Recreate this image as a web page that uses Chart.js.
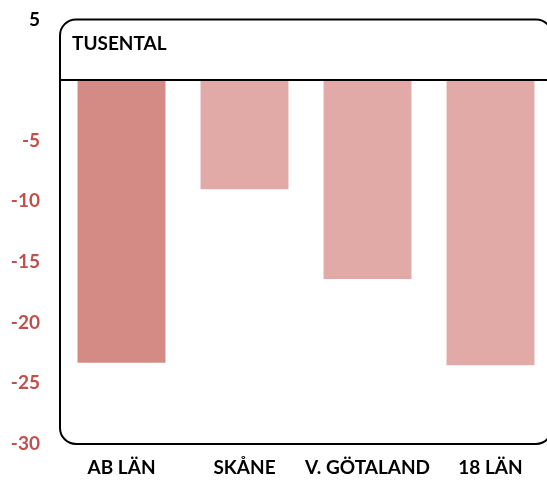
<!DOCTYPE html>
<html>
<head>
<meta charset="utf-8">
<script src="https://cdn.jsdelivr.net/npm/chart.js@4"></script>
<style>
  body { margin: 0; background: #fff; overflow: hidden; }
  #wrap { width: 547px; height: 480px; overflow: hidden; }
  #wrap div { width: 560px; height: 484px; margin-top: -4px; }
</style>
</head>
<body>
<div id="wrap"><div><canvas id="chart"></canvas></div></div>
<script>
// dane
const categories = ["AB LÄN", "SKÅNE", "V. GÖTALAND", "18 LÄN"];
const values = [-23.3, -9.0, -16.4, -23.5];
const barColors = ["#D48B85", "#E1AAA7", "#E1AAA7", "#E1AAA7"];
const unitLabel = "TUSENTAL";

// ramka z zaokraglonymi rogami + linia zero
const framePlugin = {
    id: "frame",
    afterDatasetsDraw(chart) {
        const ctx = chart.ctx;
        const a = chart.chartArea;
        const r = 16;
        ctx.save();
        ctx.strokeStyle = "#000";
        ctx.lineWidth = 2;
        ctx.beginPath();
        ctx.roundRect(a.left, a.top, a.right - a.left, a.bottom - a.top, r);
        ctx.stroke();
        const y0 = chart.scales.y.getPixelForValue(0);
        ctx.beginPath();
        ctx.moveTo(a.left, y0);
        ctx.lineTo(a.right, y0);
        ctx.stroke();
        ctx.fillStyle = "#000";
        ctx.font = "bold 19px Lato";
        ctx.textBaseline = "middle";
        ctx.fillText(unitLabel, a.left + 12, a.top + 24);
        ctx.restore();
    }
};

const ctx = document.getElementById("chart").getContext("2d");
new Chart(ctx, {
    type: "bar",
    data: {
        labels: categories,
        datasets: [{
            data: values,
            backgroundColor: barColors,
            borderWidth: 0,
            categoryPercentage: 1,
            barPercentage: 0.715
        }]
    },
    options: {
        responsive: true,
        maintainAspectRatio: false,
        animation: false,
        layout: { padding: { top: 0, bottom: 0, right: 8 } },
        plugins: { legend: { display: false }, tooltip: { enabled: false } },
        scales: {
            x: {
                afterFit(scale) { scale.height = 36; },
                grid: { display: false, drawTicks: false },
                border: { display: false },
                ticks: { color: "#000", font: { family: "Lato", size: 19, weight: "bold" }, padding: 12, maxRotation: 0, autoSkip: false }
            },
            y: {
                min: -30,
                max: 5,
                afterFit(scale) { scale.width = 60; },
                grid: { display: false },
                border: { display: false },
                ticks: {
                    stepSize: 5,
                    padding: 12,
                    font: { family: "Lato", size: 19, weight: "bold" },
                    color: c => c.tick.value > 0 ? "#000" : "#C0504D",
                    callback: v => v === 0 ? "" : v
                }
            }
        }
    },
    plugins: [framePlugin]
});
</script>
</body>
</html>
